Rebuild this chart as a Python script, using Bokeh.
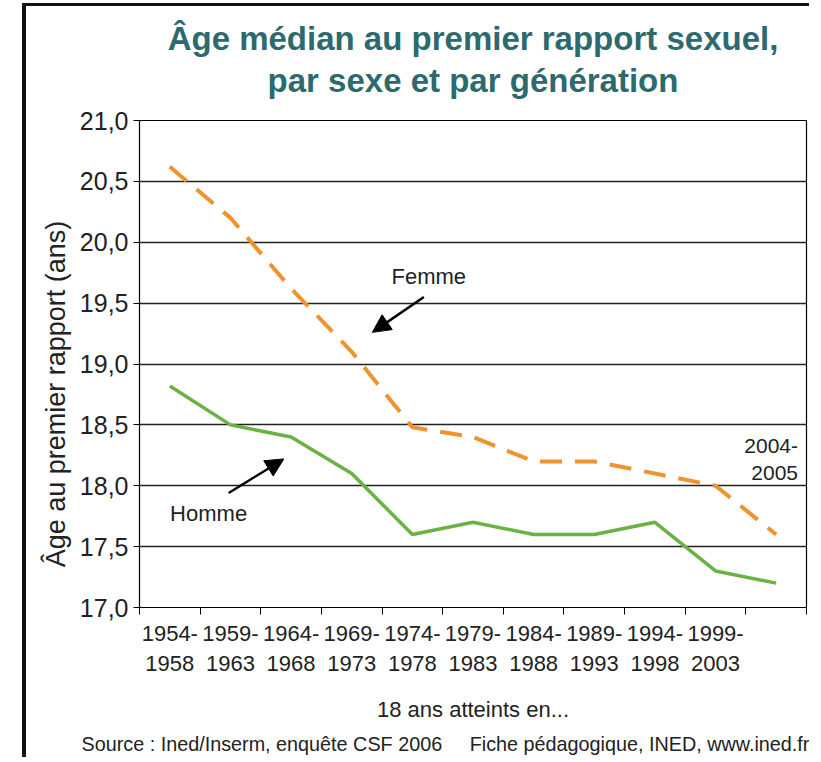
from bokeh.plotting import figure
from bokeh.models import (Range1d, FixedTicker, CustomJSTickFormatter, Arrow, NormalHead,
                          Label, Title)
from bokeh.embed import file_html
from bokeh.resources import INLINE

periodes = ["1954-1958", "1959-1963", "1964-1968", "1969-1973", "1974-1978",
            "1979-1983", "1984-1988", "1989-1993", "1994-1998", "1999-2003", "2004-2005"]
femme = [20.62, 20.2, 19.62, 19.1, 18.48, 18.4, 18.2, 18.2, 18.1, 18.0, 17.6]
homme = [18.82, 18.5, 18.4, 18.1, 17.6, 17.7, 17.6, 17.6, 17.7, 17.3, 17.2]
y_ticks = [17.0, 17.5, 18.0, 18.5, 19.0, 19.5, 20.0, 20.5, 21.0]

ORANGE = "#f0922e"
GREEN = "#69b243"
TEAL = "#2d6a6e"
TXT = "#222222"
FONT = "Liberation Sans"
NB = "\u00a0"

n = len(periodes)
xs = [i + 0.5 for i in range(n)]

p = figure(width=787, height=754, output_backend="svg", toolbar_location=None,
           x_range=Range1d(0, n), y_range=Range1d(17, 21), title=None,
           min_border_left=113, min_border_right=7, min_border_top=114, min_border_bottom=153)
p.margin = (3, 0, 0, 22)
p.styles = {"border-left": "4px solid #111111", "border-top": "3px solid #111111"}

p.add_layout(Title(text="par sexe et par génération", align="center", text_font=FONT,
                   text_font_style="bold", text_font_size="33px", text_color=TEAL,
                   standoff=44), "above")
p.add_layout(Title(text="Âge médian au premier rapport sexuel,", align="center", text_font=FONT,
                   text_font_style="bold", text_font_size="33px", text_color=TEAL,
                   standoff=-38), "above")

p.background_fill_color = "white"
p.border_fill_color = "white"
p.outline_line_color = "black"
p.outline_line_width = 1.2

# x axis: labels at category centers, ticks at boundaries
labels = {}
for i, per in enumerate(periodes[:-1]):
    a, b = per.split("-")
    labels[xs[i]] = a + "-\n" + b
labels[xs[-1]] = ""
p.xaxis.ticker = FixedTicker(ticks=xs, minor_ticks=list(range(n + 1)))
p.xaxis.major_label_overrides = labels
p.xaxis.major_tick_line_color = None
p.xaxis.minor_tick_line_color = "black"
p.xaxis.minor_tick_out = 7
p.xaxis.minor_tick_in = 0
p.xaxis.axis_line_color = "black"
p.xaxis.major_label_text_font = FONT
p.xaxis.major_label_text_font_size = "22px"
p.xaxis.major_label_text_color = TXT
p.xaxis.major_label_standoff = 6
p.xaxis.axis_label = "18 ans atteints en..."
p.xaxis.axis_label_text_font = FONT
p.xaxis.axis_label_text_font_style = "normal"
p.xaxis.axis_label_text_font_size = "22px"
p.xaxis.axis_label_text_color = TXT
p.xaxis.axis_label_standoff = 18

p.yaxis.ticker = FixedTicker(ticks=y_ticks, minor_ticks=[])
p.yaxis.formatter = CustomJSTickFormatter(code="return tick.toFixed(1).replace('.', ',');")
p.yaxis.major_tick_out = 6
p.yaxis.major_tick_in = 0
p.yaxis.major_tick_line_color = "black"
p.yaxis.axis_line_color = "black"
p.yaxis.major_label_text_font = FONT
p.yaxis.major_label_text_font_size = "25px"
p.yaxis.major_label_text_color = TXT
p.yaxis.major_label_standoff = 5
p.yaxis.axis_label = "Âge au premier rapport (ans)" + NB * 8
p.yaxis.axis_label_text_font = FONT
p.yaxis.axis_label_text_font_style = "normal"
p.yaxis.axis_label_text_font_size = "27px"
p.yaxis.axis_label_text_color = TXT
p.yaxis.axis_label_standoff = 6

p.xgrid.grid_line_color = None
p.ygrid.ticker = FixedTicker(ticks=y_ticks)
p.ygrid.grid_line_color = "#222222"
p.ygrid.grid_line_width = 1.3

p.line(xs, femme, line_color=ORANGE, line_width=4, line_dash="22 13")
p.line(xs, homme, line_color=GREEN, line_width=3.5)

p.add_layout(Label(x=4.77, y=19.72, text="Femme", text_font=FONT, text_font_size="22px",
                   text_color=TXT, text_align="center", text_baseline="middle"))
p.add_layout(Label(x=1.14, y=17.77, text="Homme", text_font=FONT, text_font_size="22px",
                   text_color=TXT, text_align="center", text_baseline="middle"))
p.add_layout(Label(x=10.86, y=18.22, text="2004-\n2005", text_font=FONT, text_font_size="21px",
                   text_color=TXT, text_align="right", text_baseline="middle"))

p.add_layout(Arrow(x_start=4.69, y_start=19.55, x_end=3.84, y_end=19.26, line_width=2.5,
                   line_color="black",
                   end=NormalHead(size=18, fill_color="black", line_color="black")))
p.add_layout(Arrow(x_start=1.47, y_start=17.94, x_end=2.38, y_end=18.22, line_width=2.5,
                   line_color="black",
                   end=NormalHead(size=18, fill_color="black", line_color="black")))

p.add_layout(Title(text="Source : Ined/Inserm, enquête CSF 2006" + NB * 5 +
                   "Fiche pédagogique, INED, www.ined.fr",
                   align="left", offset=-58, standoff=12, text_font=FONT, text_font_size="19.8px",
                   text_font_style="normal", text_color=TXT), "below")

open("out.html", "w").write(file_html(p, INLINE))
